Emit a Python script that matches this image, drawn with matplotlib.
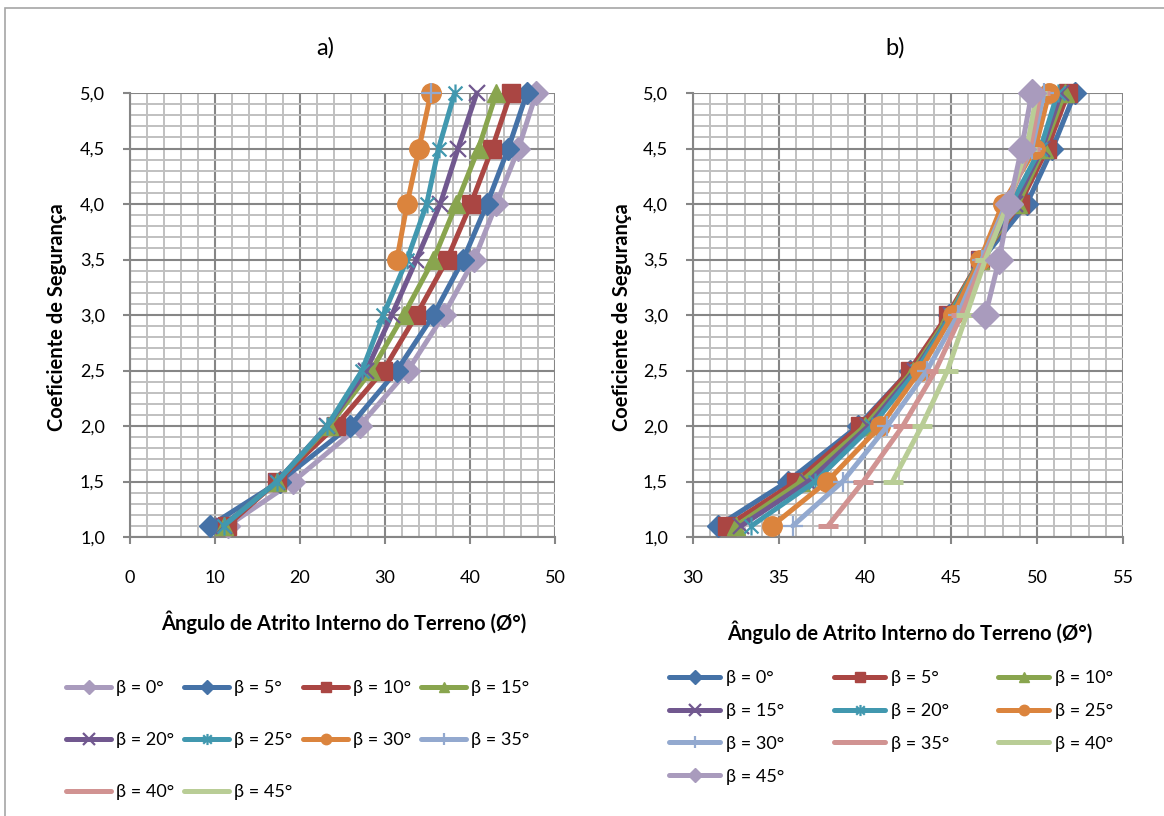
import numpy as np
import matplotlib
matplotlib.use("Agg")
import matplotlib.pyplot as plt
from matplotlib.path import Path
from matplotlib.ticker import MultipleLocator, FuncFormatter
from matplotlib.lines import Line2D
from matplotlib.patches import Rectangle

plt.rcParams['font.family'] = ['Lato', 'DejaVu Sans']

# ---------------- data ----------------
fs_levels = [1.1, 1.5, 2.0, 2.5, 3.0, 3.5, 4.0, 4.5, 5.0]
nan = np.nan

# panel a) : friction angle for each safety factor
labels_a = ["β = 0°", "β = 5°", "β = 10°", "β = 15°", "β = 20°",
            "β = 25°", "β = 30°", "β = 35°", "β = 40°", "β = 45°"]
a_b0 = [11.5, 19.2, 27.0, 32.7, 36.9, 40.5, 43.1, 45.7, 47.8]
a_b5 = [9.4, 17.6, 25.9, 31.4, 35.7, 39.2, 42.0, 44.5, 46.7]
a_b10 = [11.4, 17.3, 24.2, 29.8, 33.7, 37.3, 40.1, 42.6, 44.8]
a_b15 = [11.0, 17.3, 23.4, 28.4, 32.2, 35.7, 38.4, 41.0, 43.1]
a_b20 = [11.0, 17.3, 23.2, 27.8, 30.8, 33.7, 36.5, 38.6, 40.8]
a_b25 = [11.0, 17.3, 23.2, 27.3, 29.8, 32.6, 34.9, 36.3, 38.2]
a_b30 = [nan, nan, nan, nan, nan, 31.4, 32.6, 34.0, 35.4]
a_b35 = [nan, nan, nan, nan, nan, nan, nan, nan, 35.4]
a_b40 = [nan] * 9
a_b45 = [nan] * 9

# panel b)
labels_b = ["β = 0°", "β = 5°", "β = 10°", "β = 15°", "β = 20°",
            "β = 25°", "β = 30°", "β = 35°", "β = 40°", "β = 45°"]
b_b0 = [31.45, 35.5, 39.6, 42.6, 44.9, 46.8, 49.4, 50.9, 52.2]
b_b5 = [32.0, 36.0, 39.7, 42.6, 44.8, 46.7, 49.0, 50.6, 51.8]
b_b10 = [32.5, 36.3, 40.0, 42.8, 44.9, 46.7, 48.9, 50.4, 51.6]
b_b15 = [32.8, 36.7, 40.2, 42.9, 45.0, 46.7, 48.7, 50.3, 51.4]
b_b20 = [33.4, 37.1, 40.4, 43.0, 45.0, 46.7, 48.5, 50.2, 51.2]
b_b25 = [34.6, 37.8, 40.9, 43.2, 45.1, 46.7, 48.0, 49.9, 50.7]
b_b30 = [35.8, 38.7, 41.3, 43.6, 45.4, 46.8, 48.2, 49.7, 50.4]
b_b35 = [37.85, 39.9, 42.2, 44.1, 45.6, 46.9, 48.3, 49.6, 50.2]
b_b40 = [nan, 41.6, 43.3, 44.8, 45.9, 47.0, 48.3, 49.4, 50.0]
b_b45 = [nan, nan, nan, nan, 47.0, 47.8, 48.4, 49.1, 49.7]

# ---------------- styles ----------------
C_BLUE, C_RED, C_GREEN, C_PURPLE = '#4572A7', '#AA4643', '#89A54E', '#71588F'
C_TEAL, C_ORANGE, C_LBLUE, C_PINK = '#4198AF', '#DB843D', '#93A9CF', '#D19392'
C_LGREEN, C_LAV = '#B9CD96', '#A99BBD'

ASTER = Path([(-1, -1), (1, 1), (-1, 1), (1, -1), (0, -1.3), (0, 1.3)],
             [Path.MOVETO, Path.LINETO, Path.MOVETO, Path.LINETO,
              Path.MOVETO, Path.LINETO])

def style(color, marker):
    d = dict(color=color, lw=3.6, marker=marker, mfc=color, mec=color,
             solid_capstyle='round', solid_joinstyle='round')
    if marker == 'D':
        d.update(ms=11, mew=1)
    elif marker == 's':
        d.update(ms=13, mew=1)
    elif marker == '^':
        d.update(ms=13, mew=1)
    elif marker == 'o':
        d.update(ms=14, mew=1)
    elif marker in ('x',):
        d.update(ms=11, mew=1.6)
    elif marker == '+':
        d.update(ms=15, mew=1.6)
    elif marker == '_':
        d.update(ms=15, mew=3.6)
    else:
        d.update(ms=13, mew=1.6)
    return d

styles_a = [style(C_LAV, 'D'), style(C_BLUE, 'D'), style(C_RED, 's'),
            style(C_GREEN, '^'), style(C_PURPLE, 'x'), style(C_TEAL, ASTER),
            style(C_ORANGE, 'o'), style(C_LBLUE, '+'), style(C_PINK, '_'),
            style(C_LGREEN, '_')]
styles_b = [style(C_BLUE, 'D'), style(C_RED, 's'), style(C_GREEN, '^'),
            style(C_PURPLE, 'x'), style(C_TEAL, ASTER), style(C_ORANGE, 'o'),
            style(C_LBLUE, '+'), style(C_PINK, '_'), style(C_LGREEN, '_'),
            style(C_LAV, 'D')]
styles_b[9].update(ms=14)
styles_a[0].update(ms=12)

series_a = [a_b0, a_b5, a_b10, a_b15, a_b20, a_b25, a_b30, a_b35, a_b40, a_b45]
series_b = [b_b0, b_b5, b_b10, b_b15, b_b20, b_b25, b_b30, b_b35, b_b40, b_b45]

W, H = 1164, 816
fig = plt.figure(figsize=(W / 100, H / 100), dpi=100)

# outer frame (only top & left visible in reference)
fig.add_artist(Rectangle((5 / W, -0.05), 1.2, 1 - 8 / H + 0.05,
                         transform=fig.transFigure, fill=False,
                         ec='#A6A6A6', lw=1.2))

comma = FuncFormatter(lambda v, p: f"{v:.1f}".replace('.', ','))
MAJ, MIN = '#868686', '#C0C0C0'

def setup(ax, xlim, xmaj, xmin):
    ax.set_xlim(*xlim)
    ax.set_ylim(1.0, 5.0)
    ax.xaxis.set_major_locator(MultipleLocator(xmaj))
    ax.xaxis.set_minor_locator(MultipleLocator(xmin))
    ax.yaxis.set_major_locator(MultipleLocator(0.5))
    ax.yaxis.set_minor_locator(MultipleLocator(0.1))
    ax.yaxis.set_major_formatter(comma)
    ax.grid(which='major', color=MAJ, lw=1.5, zorder=0)
    ax.grid(which='minor', color=MIN, lw=1.4, zorder=0)
    ax.set_axisbelow(True)
    for s in ('top', 'right'):
        ax.spines[s].set_visible(False)
    for s in ('left', 'bottom'):
        ax.spines[s].set_color(MAJ)
        ax.spines[s].set_linewidth(1.5)
    ax.tick_params(which='major', direction='out', length=5, width=1.5,
                   color=MAJ, labelsize=13, labelcolor='black')
    ax.tick_params(axis='x', which='major', pad=19)
    ax.tick_params(axis='y', which='major', pad=13)
    ax.tick_params(which='minor', length=0)

axA = fig.add_axes([130 / W, 1 - 537 / H, (555 - 130) / W, (537 - 93) / H])
axB = fig.add_axes([693 / W, 1 - 537 / H, (1123 - 693) / W, (537 - 93) / H])
setup(axA, (0, 50), 10, 2)
setup(axB, (30, 55), 5, 1)

for xs, st, lab in zip(series_a, styles_a, labels_a):
    axA.plot(xs, fs_levels, label=lab, clip_on=False, zorder=3, **st)
for xs, st, lab in zip(series_b, styles_b, labels_b):
    axB.plot(xs, fs_levels, label=lab, clip_on=False, zorder=3, **st)

def legend_handle(st):
    d = dict(st)
    if d['marker'] == '_':
        d['ms'] = 0
    elif d['marker'] in ('x', '+') or isinstance(d['marker'], Path):
        d['ms'] = 8
    else:
        d['ms'] = 7.5
    return Line2D([], [], **d)

# panel titles and axis labels
fig.text(325 / W, 1 - 48 / H, "a)", ha='center', va='center', fontsize=17)
fig.text(895 / W, 1 - 48 / H, "b)", ha='center', va='center', fontsize=17)
for x in (57, 622):
    fig.text(x / W, 1 - 317 / H, "Coeficiente de Segurança", rotation=90,
             ha='center', va='center', fontsize=14.5, fontweight='bold')
fig.text(344 / W, 1 - 622 / H, "Ângulo de Atrito Interno do Terreno (Ø°)",
         ha='center', va='center', fontsize=14.5, fontweight='bold')
fig.text(910 / W, 1 - 632 / H, "Ângulo de Atrito Interno do Terreno (Ø°)",
         ha='center', va='center', fontsize=14.5, fontweight='bold')

# legends: fixed-width columns, row-major order as in reference
def column_legends(styles, labels, ncol, xs_px, top_px, spacing, hl, pad):
    n = len(labels)
    for c in range(ncol):
        idx = list(range(c, n, ncol))
        fig.legend([legend_handle(styles[i]) for i in idx],
                   [labels[i] for i in idx], ncol=1,
                   loc='upper left',
                   bbox_to_anchor=((xs_px[c] - 6) / W, 1 - top_px / H),
                   frameon=False, fontsize=13, handlelength=hl,
                   handletextpad=pad, labelspacing=spacing,
                   borderaxespad=0)

column_legends(styles_a, labels_a, 4, [65, 183, 302, 420], 673, 2.0, 2.5, 0.25)
column_legends(styles_b, labels_b, 3, [668, 833, 997], 663, 0.93, 2.8, 0.35)

fig.savefig("out.png", dpi=100)
